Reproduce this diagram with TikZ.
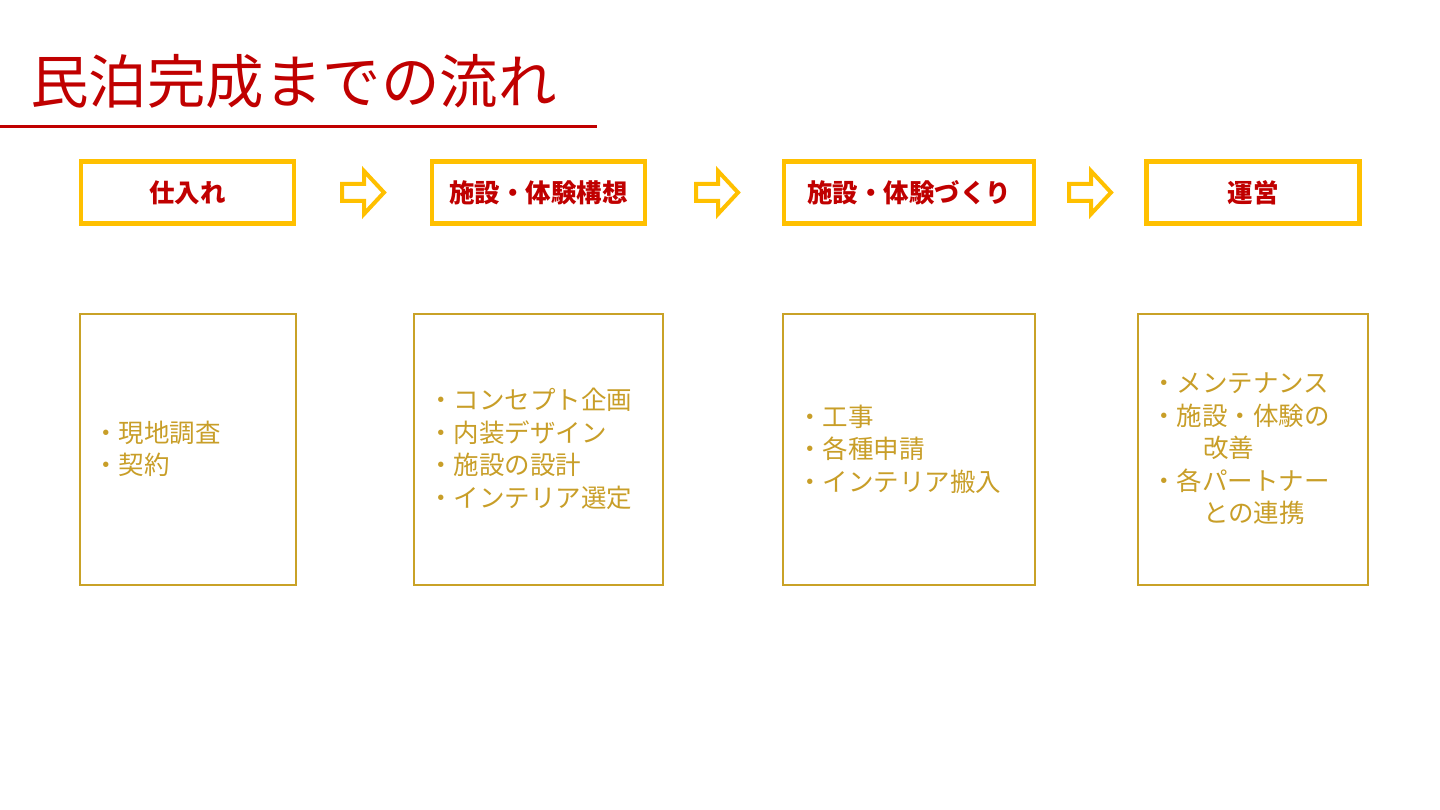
\documentclass[tikz,border=0pt]{standalone}
\usepackage{fontspec}
\setmainfont{Noto Sans CJK JP}
\definecolor{titlered}{RGB}{192,0,0}
\definecolor{stepyellow}{RGB}{255,192,0}
\definecolor{boxgold}{RGB}{201,162,39}
\definecolor{textgold}{RGB}{200,158,40}
\begin{document}
\begin{tikzpicture}[x=1pt,y=-1pt,
  stepbox/.style={draw=stepyellow,line width=4.5pt,minimum width=213pt,minimum height=62pt,inner sep=0pt,
    font=\fontsize{25.5}{28}\selectfont\bfseries,text=titlered},
  detailbox/.style={draw=boxgold,line width=1.6pt,inner sep=0pt},
  detailtext/.style={anchor=west,align=left,inner sep=0pt,text=textgold,font=\fontsize{25.5}{32.5}\selectfont},
  blockarrow/.style={draw=stepyellow,line width=4pt,line join=miter}
]
\useasboundingbox (0,0) rectangle (1440,810);
% title
\node[anchor=base west,inner sep=0pt,text=titlered,font=\fontsize{58.5}{62}\selectfont] (title) at (30,104) {民泊完成までの流れ};
\draw[titlered,line width=3pt] (0,127) -- (597,127);
% step boxes
\node[stepbox] (s1) at (187.5,192.5) {仕入れ};
\node[stepbox] (s2) at (538.5,192.5) {施設・体験構想};
\node[stepbox,minimum width=250pt] (s3) at (909,192.5) {施設・体験づくり};
\node[stepbox] (s4) at (1253,192.5) {運営};
% block arrows
\foreach \n/\cx in {a1/363,a2/717,a3/1090}{
  \coordinate (\n) at (\cx,192.5);
  \draw[blockarrow] ([shift={(-21,-8.5)}]\n) -- ([shift={(1,-8.5)}]\n) -- ([shift={(1,-21.5)}]\n)
    -- ([shift={(21,0)}]\n) -- ([shift={(1,21.5)}]\n) -- ([shift={(1,8.5)}]\n) -- ([shift={(-21,8.5)}]\n) -- cycle;
}
% detail boxes
\node[detailbox,minimum width=216pt,minimum height=271pt] (d1) at (188,449.5) {};
\node[detailbox,minimum width=249pt,minimum height=271pt] (d2) at (538.5,449.5) {};
\node[detailbox,minimum width=252pt,minimum height=271pt] (d3) at (909,449.5) {};
\node[detailbox,minimum width=230pt,minimum height=271pt] (d4) at (1253,449.5) {};
% detail texts
\node[detailtext] (t1) at (93,449) {・現地調査\\・契約};
\node[detailtext] (t2) at (428,449) {・コンセプト企画\\・内装デザイン\\・施設の設計\\・インテリア選定};
\node[detailtext] (t3) at (797,449) {・工事\\・各種申請\\・インテリア搬入};
\node[detailtext] (t4) at (1151,449) {・メンテナンス\\・施設・体験の\\\hspace*{52pt}改善\\・各パートナー\\\hspace*{52pt}との連携};
\end{tikzpicture}
\end{document}
